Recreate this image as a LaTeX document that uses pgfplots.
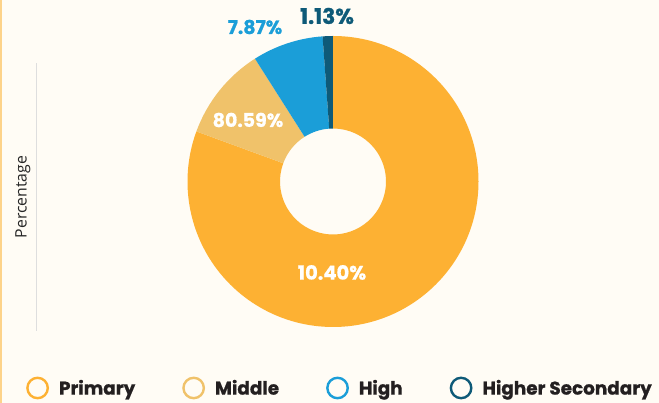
\documentclass[border=0pt]{standalone}
\usepackage{fontspec}
\setmainfont{Poppins}[BoldFeatures={FakeBold=0.8}]
\newfontfamily\labelfont{Open Sans}
\usepackage{pgfplots}
\usepackage{pgfplotstable}
\pgfplotsset{compat=1.18}
\definecolor{bg}{HTML}{FFFCF5}
\definecolor{cPrim}{HTML}{FDB133}
\definecolor{cMid}{HTML}{F0C26A}
\definecolor{cHigh}{HTML}{1B9ED8}
\definecolor{cHS}{HTML}{0E5A78}
\definecolor{edge}{HTML}{FDD38A}
\definecolor{txt}{HTML}{231F20}

\pgfplotstableread{
level value
Primary 80.59
Middle 10.40
High 7.87
HigherSecondary 1.13
}\datatable

\newcommand\slice[3]{%
  \fill[#3] (axis cs:333,221.5) ++(#1:145.5pt) arc[start angle=#1,end angle=#2,radius=145.5pt]
    -- ++(#2:-92.5pt) arc[start angle=#2,end angle=#1,radius=53pt] -- cycle;}

\begin{document}
\begin{tikzpicture}
\fill[bg] (0,0) rectangle (659pt,403pt);
\fill[edge] (0,0) rectangle (1.6pt,403pt);
\pgfplotstablegetelem{0}{value}\of\datatable \let\vA\pgfplotsretval
\pgfplotstablegetelem{1}{value}\of\datatable \let\vB\pgfplotsretval
\pgfplotstablegetelem{2}{value}\of\datatable \let\vC\pgfplotsretval
\pgfplotstablegetelem{3}{value}\of\datatable \let\vD\pgfplotsretval
\pgfmathsetmacro{\aA}{90}
\pgfmathsetmacro{\aB}{\aA-3.6*\vA}
\pgfmathsetmacro{\aC}{\aB-3.6*\vB}
\pgfmathsetmacro{\aD}{\aC-3.6*\vC}
\pgfmathsetmacro{\aE}{\aD-3.6*\vD}
\begin{axis}[
  hide axis, scale only axis, width=659pt, height=403pt,
  xmin=0, xmax=659, ymin=0, ymax=403, clip=false,
  legend columns=4,
  legend style={at={(axis cs:26,15)}, anchor=west, draw=none, fill=none,
    inner sep=0pt, text=txt,
    font=\bfseries\fontsize{18.4}{18.4}\selectfont,
    nodes={inner sep=0pt},
    /tikz/every odd column/.append style={column sep=10pt},
    /tikz/every even column/.append style={column sep=47pt}},
  legend cell align=left,
]
\slice{\aA}{\aB}{cPrim}
\slice{\aB}{\aC}{cMid}
\slice{\aC}{\aD}{cHigh}
\slice{\aD}{\aE}{cHS}

\addlegendimage{legend image code/.code={\draw[cPrim,line width=2.4pt] (0pt,0pt) circle (10.2pt);}}
\addlegendentry{Primary}
\addlegendimage{legend image code/.code={\draw[cMid,line width=2.4pt] (0pt,0pt) circle (10.2pt);}}
\addlegendentry{Middle}
\addlegendimage{legend image code/.code={\draw[cHigh,line width=2.4pt] (0pt,0pt) circle (10.2pt);}}
\addlegendentry{High}
\addlegendimage{legend image code/.code={\draw[cHS,line width=2.4pt] (0pt,0pt) circle (10.2pt);}}
\addlegendentry{Higher Secondary}

\node[text=white, font=\bfseries\fontsize{19.5}{20}\selectfont] at (axis cs:332,130.5) {10.40\%};
\node[text=white, font=\bfseries\fontsize{19}{20}\selectfont] at (axis cs:248,283) {80.59\%};
\node[text=cHigh, font=\bfseries\fontsize{19}{20}\selectfont] at (axis cs:255,376) {7.87\%};
\node[text=cHS, font=\bfseries\fontsize{21.5}{22}\selectfont] at (axis cs:327,387) {1.13\%};
\node[rotate=90, text=black!85, font=\labelfont\fontsize{15.8}{16}\selectfont] at (axis cs:23,206) {Percentage};
\draw[black!13, line width=0.8pt] (axis cs:36.5,72) -- (axis cs:36.5,340);
\end{axis}
\end{tikzpicture}
\end{document}
